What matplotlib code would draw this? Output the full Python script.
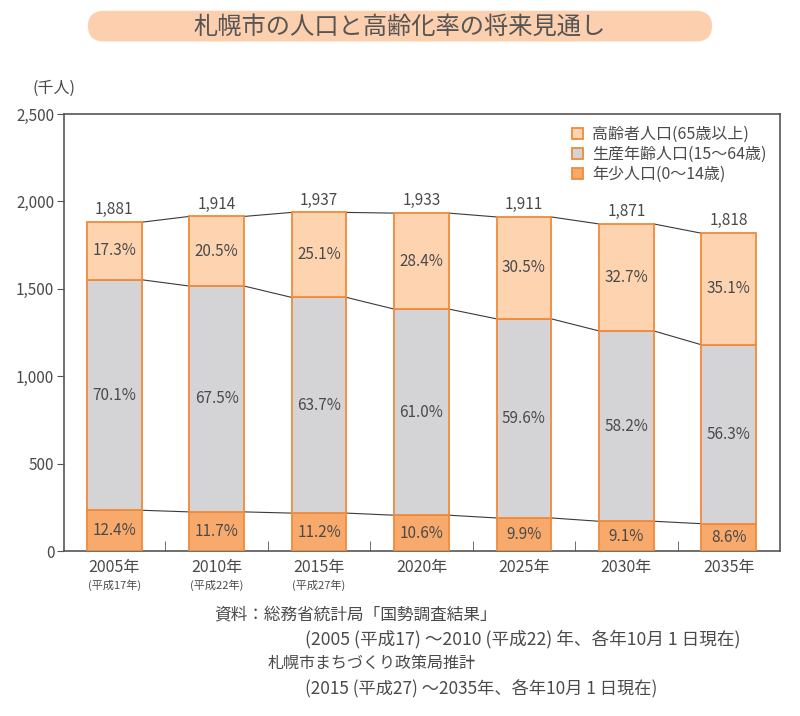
import matplotlib.pyplot as plt
from matplotlib.patches import FancyBboxPatch, Patch
import numpy as np

plt.rcParams['font.family'] = ['Noto Sans CJK JP', 'DejaVu Sans']

years = ['2005年', '2010年', '2015年', '2020年', '2025年', '2030年', '2035年']
era = ['(平成17年)', '(平成22年)', '(平成27年)', '', '', '', '']
totals = [1881, 1914, 1937, 1933, 1911, 1871, 1818]
pct_old = [17.3, 20.5, 25.1, 28.4, 30.5, 32.7, 35.1]
pct_work = [70.1, 67.5, 63.7, 61.0, 59.6, 58.2, 56.3]
pct_young = [12.4, 11.7, 11.2, 10.6, 9.9, 9.1, 8.6]

tot = np.array(totals, dtype=float)
young = tot * np.array(pct_young) / 100
work = tot * np.array(pct_work) / 100
old = tot - young - work

c_old = '#fdd3b0'
c_work = '#d4d4d6'
c_young = '#f8aa6c'
c_edge = '#f08a3a'
txt = '#4a4a4a'

fig = plt.figure(figsize=(8, 7.16), dpi=100)
ax = fig.add_axes([0.08, 0.2304, 0.895, 0.6104])

x = np.arange(len(years))
w = 0.535
ax.bar(x, young, w, color=c_young, edgecolor=c_edge, lw=1.3, zorder=3)
ax.bar(x, work, w, bottom=young, color=c_work, edgecolor=c_edge, lw=1.3, zorder=3)
ax.bar(x, old, w, bottom=young + work, color=c_old, edgecolor=c_edge, lw=1.3, zorder=3)

# connecting lines between bars
for lvl in [young, young + work, tot]:
    for i in range(len(x) - 1):
        ax.plot([x[i] + w / 2, x[i + 1] - w / 2], [lvl[i], lvl[i + 1]],
                color='#3a3a3a', lw=0.8, zorder=2)

for i in range(len(x)):
    ax.text(x[i], young[i] / 2, f'{pct_young[i]:.1f}%', ha='center', va='center',
            fontsize=11, color=txt, zorder=4)
    ax.text(x[i], young[i] + work[i] / 2, f'{pct_work[i]:.1f}%', ha='center',
            va='center', fontsize=11, color=txt, zorder=4)
    ax.text(x[i], young[i] + work[i] + old[i] / 2, f'{pct_old[i]:.1f}%',
            ha='center', va='center', fontsize=11, color=txt, zorder=4)
    ax.text(x[i], tot[i] + 22, f'{totals[i]:,}', ha='center', va='bottom',
            fontsize=11, color=txt)
    ax.text(x[i], -95, years[i], ha='center', va='center', fontsize=11.5, color=txt)
    if era[i]:
        ax.text(x[i], -195, era[i], ha='center', va='center', fontsize=8, color=txt)

ax.set_xlim(-0.49, 6.5)
ax.set_ylim(0, 2500)
ax.set_yticks(np.arange(0, 2501, 500))
ax.set_yticklabels([f'{v:,}' for v in range(0, 2501, 500)], fontsize=11, color=txt)
ax.set_xticks([])
ax.set_xticks(x[:-1] + 0.5, minor=True)
ax.tick_params(axis='x', which='minor', direction='in', length=7, color='#555555')
ax.tick_params(axis='y', direction='out', length=5, color='#555555', pad=2)
for s in ax.spines.values():
    s.set_color('#555555')
    s.set_linewidth(1.2)

handles = [Patch(facecolor=c_old, edgecolor=c_edge, lw=1.3),
           Patch(facecolor=c_work, edgecolor=c_edge, lw=1.3),
           Patch(facecolor=c_young, edgecolor=c_edge, lw=1.3)]
labels = ['高齢者人口(65歳以上)', '生産年齢人口(15～64歳)', '年少人口(0～14歳)']
leg = ax.legend(handles, labels, loc='upper right', bbox_to_anchor=(0.995, 0.995),
                frameon=False, fontsize=11.5, handlelength=0.7, handleheight=0.7,
                handletextpad=0.6, labelspacing=0.2, borderaxespad=0.2)
for t in leg.get_texts():
    t.set_color(txt)

fig.text(0.04, 0.877, '(千人)', fontsize=11.5, color=txt, ha='left', va='center')

# title box
box = FancyBboxPatch((0.11, 0.942), 0.78, 0.043, boxstyle='round,pad=0,rounding_size=0.021',
                     transform=fig.transFigure, facecolor='#fccfae', edgecolor='none')
fig.patches.append(box)
fig.text(0.5, 0.963, '札幌市の人口と高齢化率の将来見通し', ha='center', va='center',
         fontsize=17.5, color='#555555')

src = [(0.268, 0.141, '資料：総務省統計局「国勢調査結果」', 12),
       (0.381, 0.107, '(2005 (平成17) ～2010 (平成22) 年、各年10月 1 日現在)', 12.7),
       (0.334, 0.073, '札幌市まちづくり政策局推計', 11.5),
       (0.381, 0.038, '(2015 (平成27) ～2035年、各年10月 1 日現在)', 12.4)]
for xx, yy, s, fs in src:
    fig.text(xx, yy, s, fontsize=fs, color=txt, ha='left', va='center')

fig.savefig('out.png', dpi=100)
